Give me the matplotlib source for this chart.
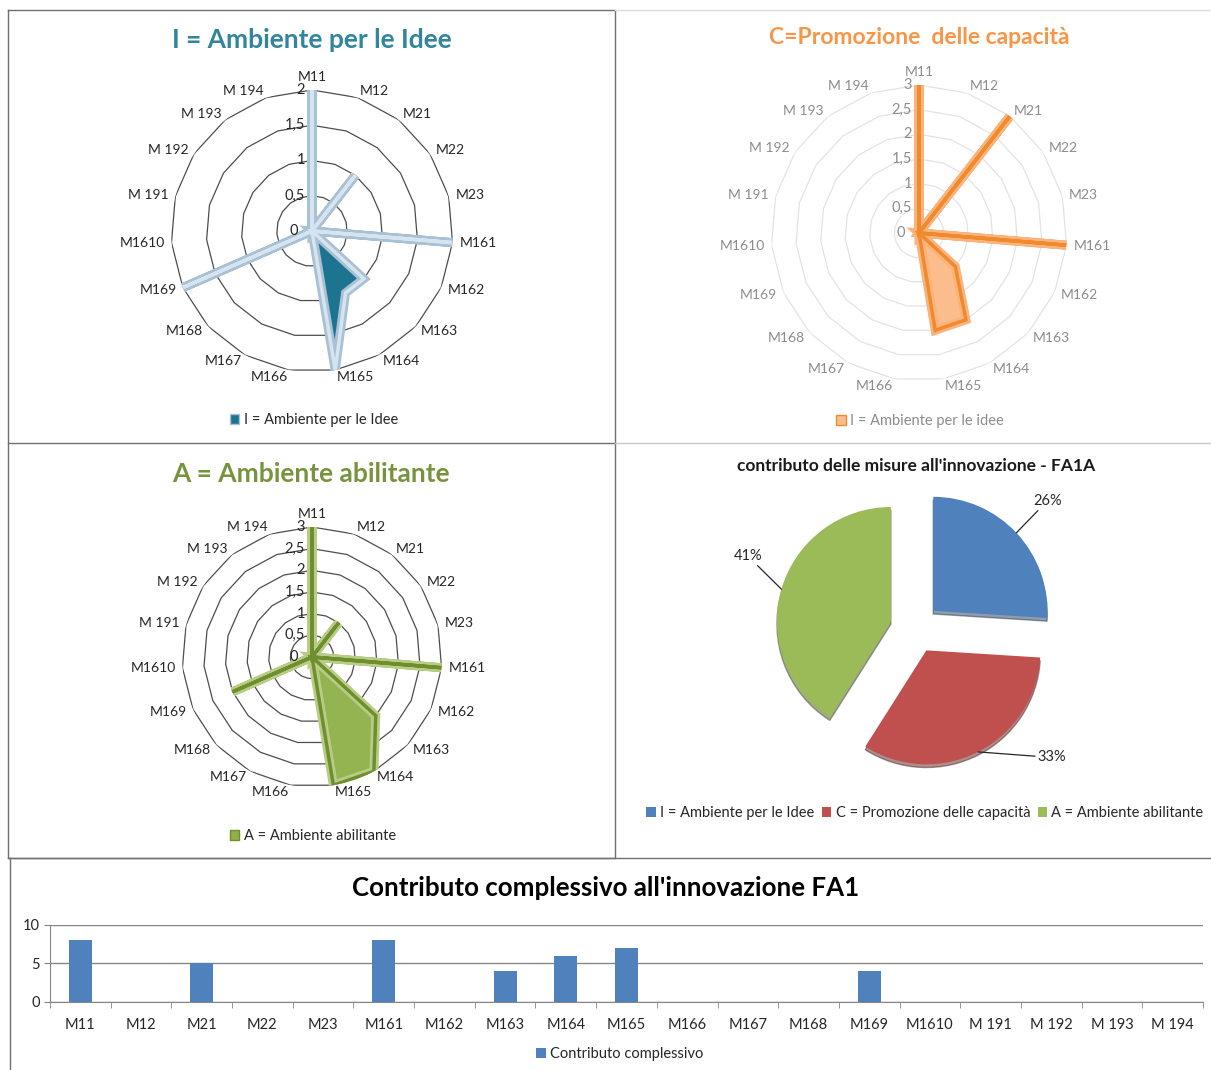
import numpy as np
import matplotlib.pyplot as plt
from matplotlib.patches import Patch
from matplotlib.lines import Line2D

plt.rcParams['font.family'] = ['Lato', 'DejaVu Sans']

W, H = 1211, 1070

misure = ['M11', 'M12', 'M21', 'M22', 'M23', 'M161', 'M162', 'M163', 'M164', 'M165',
          'M166', 'M167', 'M168', 'M169', 'M1610', 'M 191', 'M 192', 'M 193', 'M 194']
val_idee = [2, 0, 1, 0, 0, 2, 0, 1, 1, 2, 0, 0, 0, 2, 0, 0, 0, 0, 0]
val_capacita = [3, 0, 3, 0, 0, 3, 0, 1, 2, 2, 0, 0, 0, 0, 0, 0, 0, 0, 0]
val_abilitante = [3, 0, 1, 0, 0, 3, 0, 2, 3, 3, 0, 0, 0, 2, 0, 0, 0, 0, 0]
contributo = [8, 0, 5, 0, 0, 8, 0, 4, 6, 7, 0, 0, 0, 4, 0, 0, 0, 0, 0]

pie_labels = ['I = Ambiente per le Idee', 'C = Promozione delle capacità', 'A = Ambiente abilitante']
pie_pct = [26, 33, 41]

fig = plt.figure(figsize=(W / 100, H / 100), dpi=100)


def px(x0, y0, x1, y1):
    # pixel box -> figure coords
    return [x0 / W, 1 - y1 / H, (x1 - x0) / W, (y1 - y0) / H]


def fline(xs, ys, color, lw=1.0):
    fig.add_artist(Line2D([x / W for x in xs], [1 - y / H for y in ys],
                          transform=fig.transFigure, color=color, lw=lw))


def radar(cx, cy, r, values, rmax, fill, edge, glow, grid, txt):
    ax = fig.add_axes(px(cx - r, cy - r, cx + r, cy + r), projection='polar')
    n = len(misure)
    theta = np.arange(n) * 2 * np.pi / n
    ax.set_theta_zero_location('N')
    ax.set_theta_direction(-1)
    ax.set_ylim(0, rmax)
    ax.grid(False)
    ax.spines['polar'].set_visible(False)
    ax.set_xticks([])
    ax.set_yticks([])
    ax.patch.set_alpha(0)
    tc = np.append(theta, theta[0])
    rings = np.arange(0.5, rmax + 0.01, 0.5)
    for rr in rings:
        ax.plot(tc, [rr] * (n + 1), color=grid, lw=0.9, zorder=1)
    ax.plot([0, 0], [0, rmax], color=grid, lw=0.9, zorder=1)
    vc = np.append(values, values[0])
    ax.fill(tc, vc, color=fill, zorder=3)
    ax.plot(tc, vc, color=glow, lw=6.5, zorder=4, solid_joinstyle='miter')
    ax.plot(tc, vc, color=edge, lw=2.5, zorder=5, solid_joinstyle='miter')
    for rr in np.append(0, rings):
        lab = ('%g' % rr).replace('.', ',')
        dx = -10 if rr == 0 else -5
        ax.annotate(lab, (0, rr), xytext=(dx, 0), textcoords='offset points',
                    ha='right', va='center', fontsize=10.5, color=txt, zorder=6)
    for t, name in zip(theta, misure):
        s, c = np.sin(t), np.cos(t)
        ha = 'left' if s > 0.05 else ('right' if s < -0.05 else 'center')
        va = 'bottom' if abs(s) < 0.05 else 'center'
        ax.annotate(name, (t, rmax), xytext=(5 * s, 5 * c), textcoords='offset points',
                    ha=ha, va=va, fontsize=10, color=txt, annotation_clip=False)
    return ax


def legenda(x, y, handles, labels, color, fs=10.5):
    fig.legend(handles, labels, loc='center', bbox_to_anchor=(x / W, 1 - y / H),
               frameon=False, fontsize=fs, labelcolor=color, handlelength=0.65,
               handleheight=0.65, handletextpad=0.3, ncol=len(handles),
               columnspacing=0.5, borderpad=0)


###############################################################################
# I = Ambiente per le Idee
radar(312, 231, 141, val_idee, 2, '#1c7490', '#d6e4ef', '#a9c1d5', '#4d4d4d', '#262626')
fig.text(312 / W, 1 - 40 / H, 'I = Ambiente per le Idee', ha='center', va='center',
         fontsize=19, fontweight='bold', color='#31859c')
legenda(314, 420, [Patch(facecolor='#1c7490', edgecolor='#a9c1d5')],
        ['I = Ambiente per le Idee'], '#262626')

# C = Promozione delle capacità
radar(919, 233, 148, val_capacita, 3, '#fbbd8c', '#f08a2c', '#f9b37c', '#e3e3e3', '#8c8c8c')
fig.text(919 / W, 1 - 38 / H, 'C=Promozione  delle capacità', ha='center', va='center',
         fontsize=16.5, fontweight='bold', color='#f79646')
legenda(920, 421, [Patch(facecolor='#fbbd8c', edgecolor='#f08a2c')],
        ['I = Ambiente per le idee'], '#8c8c8c')

# A = Ambiente abilitante
radar(312, 657, 130, val_abilitante, 3, '#93b450', '#6f8f2e', '#b7cd86', '#4d4d4d', '#262626')
fig.text(311 / W, 1 - 474 / H, 'A = Ambiente abilitante', ha='center', va='center',
         fontsize=19, fontweight='bold', color='#77933c')
legenda(313, 836, [Patch(facecolor='#8fb04a', edgecolor='#6f8f2e')],
        ['A = Ambiente abilitante'], '#262626')

###############################################################################
# torta
R = 114
pcx, pcy = 915, 628
axp = fig.add_axes(px(pcx - 1.4 * R, pcy - 1.4 * R, pcx + 1.4 * R, pcy + 1.4 * R))
pie_colors = ['#4f81bd', '#c0504d', '#9bbb59']
wedges, _ = axp.pie(pie_pct, colors=pie_colors, startangle=90, counterclock=False,
                    explode=[0.22] * 3, radius=1,
                    shadow={'ox': 0.0, 'oy': -0.02, 'shade': 0.55})
axp.set_xlim(-1.4, 1.4)
axp.set_ylim(-1.4, 1.4)
offsets = [(12, 23), (43, -4), (-14, 24)]
for w, p, off in zip(wedges, pie_pct, offsets):
    mid = np.deg2rad((w.theta1 + w.theta2) / 2)
    xy = (1.22 * np.cos(mid), 1.22 * np.sin(mid))
    axp.annotate('%d%%' % p, xy, xytext=off, textcoords='offset points',
                 ha='left' if off[0] > 0 else 'right', va='center', fontsize=10.5,
                 color='#262626',
                 arrowprops=dict(arrowstyle='-', color='#262626', lw=0.9,
                                 shrinkA=0, shrinkB=0))
fig.text(916 / W, 1 - 466 / H, "contributo delle misure all'innovazione - FA1A",
         ha='center', va='center', fontsize=12.5, fontweight='bold', color='#1a1a1a')
legenda(925, 813, [Patch(facecolor=c) for c in pie_colors], pie_labels, '#262626', fs=10.5)

###############################################################################
# barre contributo complessivo
axb = fig.add_axes(px(50, 925, 1203, 1001.7))
x = np.arange(len(misure))
axb.bar(x, contributo, width=0.38, color='#4f81bd', zorder=3)
axb.set_xlim(-0.5, len(misure) - 0.5)
axb.set_ylim(0, 10)
axb.set_yticks([0, 5, 10])
axb.set_xticks(x)
axb.set_xticklabels(misure)
axb.set_xticks(np.arange(-0.5, len(misure), 1), minor=True)
axb.tick_params(axis='x', which='major', length=0, pad=12, labelsize=10.5, labelcolor='#262626')
axb.tick_params(axis='x', which='minor', length=4, color='#868686')
axb.tick_params(axis='y', length=4, color='#868686', labelsize=10.5, labelcolor='#262626')
axb.yaxis.grid(True, color='#868686', lw=1)
for s in ['top', 'right']:
    axb.spines[s].set_visible(False)
for s in ['left', 'bottom']:
    axb.spines[s].set_color('#868686')
axb.patch.set_alpha(0)
fig.text(606 / W, 1 - 888 / H, "Contributo complessivo all'innovazione FA1",
         ha='center', va='center', fontsize=18.6, fontweight='bold', color='#000000')
legenda(620, 1054, [Patch(facecolor='#4f81bd')], ['Contributo complessivo'], '#262626')

###############################################################################
# cornici
fline([8, 615, 615, 8, 8], [10, 10, 443, 443, 10], '#6f6f6f')
fline([8, 8, 615, 615], [443, 858, 858, 443], '#6f6f6f')
fline([615, 1211], [10, 10], '#dcdcdc')
fline([615, 1211], [443, 443], '#c8c8c8')
fline([8, 1211], [858, 858], '#6f6f6f')
fline([10, 10], [858, 1070], '#6f6f6f')

fig.savefig('out.png', dpi=100, facecolor='white')
